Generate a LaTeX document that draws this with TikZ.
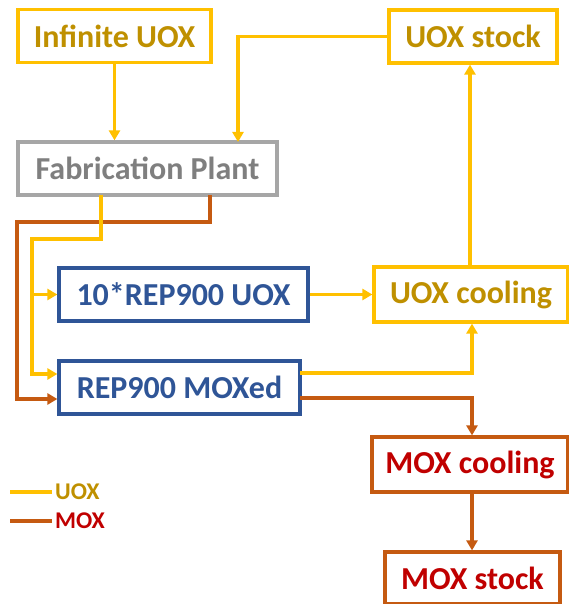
\documentclass[tikz,border=0pt]{standalone}
\usepackage{fontspec}
\setmainfont{Carlito}
\usetikzlibrary{arrows.meta}
\definecolor{gold}{HTML}{FFC000}
\definecolor{goldtxt}{HTML}{BF9000}
\definecolor{bluec}{HTML}{2F5597}
\definecolor{orangec}{HTML}{C55A11}
\definecolor{redtxt}{HTML}{C00000}
\definecolor{grayb}{HTML}{A6A6A6}
\definecolor{graytxt}{HTML}{7F7F7F}
\tikzset{
  box/.style={draw, line width=3.2pt, fill=white, inner sep=0pt, font=\fontsize{32}{36}\selectfont\bfseries},
  uoxbox/.style={box, draw=gold, text=goldtxt},
  graybox/.style={box, draw=grayb, text=graytxt},
  bluebox/.style={box, draw=bluec, text=bluec},
  moxbox/.style={box, draw=orangec, text=redtxt},
  uoxl/.style={draw=gold, line width=3.2pt},
  moxl/.style={draw=orangec, line width=3.2pt},
  tip/.style={-{Triangle[length=10pt,width=11pt]}},
  legtxt/.style={font=\fontsize{24}{28}\selectfont\bfseries, anchor=west, inner sep=0pt}
}
\begin{document}
\begin{tikzpicture}[x=1pt,y=-1pt]
\useasboundingbox (0,0) rectangle (569,604);
% connectors first
\coordinate (fy) at (101,195);
\coordinate (fy1) at (101,239);
\coordinate (fy2) at (32,239);
\coordinate (fy3) at (32,374);
\coordinate (fyb) at (32,294.5);
\coordinate (fo) at (210,195);
\coordinate (fo1) at (210,222);
\coordinate (fo2) at (17,222);
\coordinate (fo3) at (17,399);
\coordinate (c1) at (238,142);
\coordinate (my) at (300,373);
\coordinate (my1) at (472,373);
\coordinate (mo) at (300,398);
\coordinate (mo1) at (472,398);

\node[uoxbox, minimum width=193pt, minimum height=53pt] (inf) at (114.5,36) {Infinite UOX};
\node[graybox, minimum width=259pt, minimum height=53pt] (fab) at (147.5,168.5) {Fabrication Plant};
\node[uoxbox, minimum width=168pt, minimum height=53pt] (uoxs) at (473,36.5) {UOX stock};
\node[uoxbox, minimum width=194pt, minimum height=55pt] (uoxc) at (471,294.5) {UOX cooling};
\node[bluebox, minimum width=249pt, minimum height=53pt] (rep) at (183.5,294.5) {10*REP900 UOX};
\node[bluebox, minimum width=241pt, minimum height=53pt] (mox) at (179.5,387.5) {REP900 MOXed};
\node[moxbox, minimum width=196pt, minimum height=55pt] (moxc) at (470,464.5) {MOX cooling};
\node[moxbox, minimum width=175pt, minimum height=52pt] (moxs) at (472.5,578) {MOX stock};

\draw[uoxl, tip] (inf.south) -- (inf.south |- fab.north);
\draw[uoxl, tip] (uoxs.west) -| (c1);
\draw[moxl, tip] (fo) -- (fo1) -- (fo2) -- (fo3) -- (fo3 -| mox.west);
\draw[uoxl, tip] (fy) -- (fy1) -- (fy2) -- (fy3) -- (fy3 -| mox.west);
\draw[uoxl, tip] (fyb) -- (rep.west);
\draw[uoxl, tip] (rep.east) -- (uoxc.west);
\draw[uoxl, tip] (uoxc.north -| 470,0) -- (uoxs.south -| 470,0);
\draw[uoxl, tip] (my) -- (my1) -- (my1 |- uoxc.south);
\draw[moxl, tip] (mo) -- (mo1) -- (mo1 |- moxc.north);
\draw[moxl, tip] (moxc.south -| 472,0) -- (moxs.north -| 472,0);

% legend
\coordinate (ly0) at (10,492);
\coordinate (ly1) at (52,492);
\coordinate (lo0) at (10,521);
\coordinate (lo1) at (52,521);
\draw[uoxl] (ly0) -- (ly1);
\draw[moxl] (lo0) -- (lo1);
\node[legtxt, text=goldtxt] (lu) at (55,492) {UOX};
\node[legtxt, text=redtxt] (lm) at (55,521) {MOX};
\end{tikzpicture}
\end{document}
